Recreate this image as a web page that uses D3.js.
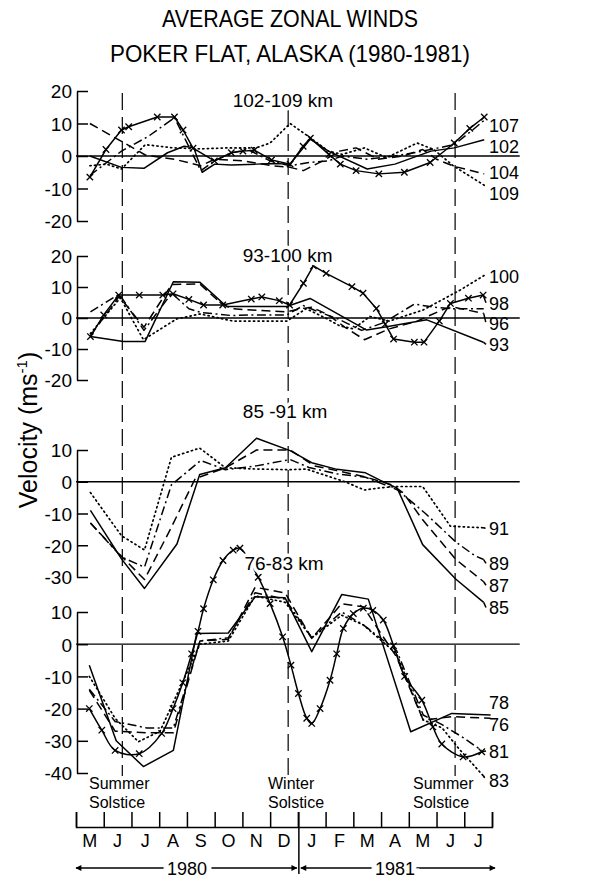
<!DOCTYPE html>
<html><head><meta charset="utf-8">
<script src="https://cdn.jsdelivr.net/npm/d3@7"></script>
<style>
body{margin:0;background:#fff}
svg{display:block;font-family:"Liberation Sans",Arial,sans-serif}
</style></head><body>
<svg id="c" width="610" height="878"></svg>
<script>
// ---------- DATA (t = months since 1 May 1980, value in m/s) ----------
const months = ["M","J","J","A","S","O","N","D","J","F","M","A","M","J","J"];
const years = ["1980","1981"];
const solstices = [1.67, 7.65, 13.67];
const solsticeNames = [["Summer","Solstice"],["Winter","Solstice"],["Summer","Solstice"]];

// 102-109 km
const s107 = [[0.5,-6.5],[1.08,2],[1.64,8],[1.9,9],[2.93,12],[3.55,12],[3.86,8],[4.22,2.4],[4.99,-1.5],[5.6,1],[6.02,1.5],[6.43,1.8],[7.05,-1.2],[7.72,-2.5],[8.19,3],[8.45,5.5],[9.12,0.5],[9.53,-2.5],[10.1,-4.5],[10.92,-5.5],[11.84,-5],[12.77,-2],[13.64,4],[14.2,8.5],[14.72,12]];
const s102 = [[0.5,0],[1.64,-3.5],[2.45,-3.8],[3.3,1],[3.9,3],[4.25,2.5],[4.55,-5],[5.0,-2.5],[5.6,-2.8],[6.5,-2.5],[7.1,-2.3],[7.72,-2.5],[8.45,5.2],[9.1,1.5],[10.5,-4],[11.5,-2.5],[12.8,1.5],[13.64,2.5],[14.72,5]];
const s104 = [[0.5,10],[1.64,4.5],[2.5,0.3],[3.55,-1],[4.5,-3],[5.0,-1],[6.0,-1.5],[7.1,-3],[7.72,-3.5],[8.2,-4.5],[8.9,-1.5],[9.5,1.5],[10.1,2.5],[10.9,-1],[11.8,0],[12.5,2],[13.0,-1],[13.64,-3.2],[14.72,-5.5]];
const s109 = [[0.5,-3],[1.1,-2.5],[1.64,-4],[2.5,3.5],[3.5,2.5],[4.5,2.2],[5.5,2.5],[6.5,2.5],[7.0,4],[7.72,10],[8.3,6.5],[9.1,1.5],[9.6,0.5],[10.4,2.5],[11.2,-0.5],[12.3,4],[12.9,2],[13.6,-3],[14.72,-9]];
const sDash1 = [[0.5,-6],[1.64,1.5],[2.6,6],[3.55,11.8],[4.5,-4.5],[5.0,-1.5],[5.6,1],[6.2,2],[7.0,-1.5],[7.72,-3],[8.4,-2],[9.1,-1.5],[9.6,0],[10.5,-1],[11.5,0],[12.5,1.5],[13.64,3.5],[14.3,8],[14.72,11]];

// 93-100 km
const s98 = [[0.52,-6],[1.0,1],[1.54,7.4],[2.28,7.4],[3.13,7.4],[3.5,7.8],[4.07,6],[4.6,4.2],[5.29,4.2],[6.32,6.1],[6.7,6.8],[7.33,5.6],[7.7,4.2],[8.2,11.2],[8.56,16.8],[9.02,14.4],[9.95,10.1],[10.35,8],[10.83,3.1],[11.15,-2],[11.45,-6.8],[12.2,-7.8],[12.55,-7.8],[13.1,-1],[13.5,4.7],[14.15,6.4],[14.68,7.4]];
const s93 = [[0.52,-6],[1.71,-7.6],[2.49,-7.6],[3.51,11.7],[4.47,11.5],[5.43,3.7],[7.6,3.7],[8.44,6.3],[9.82,-0.6],[10.48,-3.9],[11.2,-2.8],[12.65,-0.6],[14.69,-7.8]];
const s100 = [[0.52,-5],[1.6,6.5],[2.43,-7],[3.63,-0.3],[4.47,1.3],[5.67,-1],[7.6,-1],[8.3,3],[9.0,0],[9.5,-2.5],[10.0,-3.5],[10.6,0.5],[11.3,-1],[12.52,2.6],[13.85,9],[14.75,13.9]];
const s96 = [[0.52,-5.7],[1.56,7],[2.45,-3],[3.45,10.8],[4.46,11],[5.2,5],[5.6,3],[6.5,2.5],[7.6,2],[8.1,3],[8.5,3.5],[9.1,1],[9.7,-3],[10.4,-7],[11.3,-3.5],[12.3,-1],[13.3,3],[13.6,3.5],[14.7,1.5]];
const sDash2 = [[0.52,2],[1.56,7.7],[2.45,-4],[3.45,8],[4.07,3],[4.5,1.8],[5.6,0.8],[6.5,1],[7.6,1],[8.2,4],[8.6,2.5],[9.5,-0.5],[10.3,-4],[11.1,-1.5],[12.2,4.5],[12.9,3.5],[13.6,3],[14.7,3]];

// 85-91 km
const s85 = [[0.52,-9],[1.64,-24.3],[2.47,-33.6],[3.64,-19.6],[4.46,2.3],[5.39,4.4],[6.51,13.7],[7.72,9.8],[8.5,6],[9.41,3.9],[10.44,2.8],[10.96,0.5],[11.58,-2],[12.5,-19.8],[13.7,-30.7],[14.7,-38]];
const s87 = [[0.52,-13],[1.64,-23.5],[2.47,-30.8],[3.4,-15],[4.3,1],[5.39,4.4],[6.51,10],[7.72,10],[8.6,5],[9.4,3.5],[10.44,1.5],[11.4,-1],[11.8,-3.5],[12.5,-12],[13.7,-24.5],[14.7,-31.5]];
const s89 = [[0.52,-13],[1.64,-23.7],[2.47,-26.9],[3.44,-1],[4.5,6.7],[5.39,3.8],[6.5,5],[7.72,7],[8.4,4.5],[9.4,2.5],[10.44,1.4],[11.0,-0.5],[11.6,-2.6],[12.6,-10],[13.7,-19],[14.4,-23.4],[14.7,-24.5]];
const s91 = [[0.52,-3.4],[1.64,-17],[2.47,-21.5],[3.44,7.7],[4.46,10.6],[5.39,4.4],[6.5,4],[7.72,3.8],[8.3,4],[9.0,2],[9.7,0],[10.4,-2.6],[10.9,-2],[11.5,-1.5],[12.5,-1.5],[13.5,-14],[14.7,-14.5]];

// 76-83 km
const s78 = [[0.48,-6.5],[1.45,-30],[2.43,-38],[3.51,-33],[4.35,3.3],[5.49,3.5],[6.46,14.7],[7.54,14.4],[8.5,-2.3],[9.58,15.4],[10.54,14],[12.07,-27.2],[13.55,-21.5],[14.95,-22]];
const s76 = [[0.48,-14.3],[1.41,-27],[2.55,-27.5],[3.51,-27.5],[4.47,1],[5.49,1.5],[6.46,17.7],[7.54,15.9],[8.5,1.8],[9.58,12.6],[10.36,11.6],[11.56,-4],[12.52,-23.6],[13.55,-22.5],[14.95,-23]];
const s81 = [[0.48,-20],[0.93,-26.7],[1.41,-33],[2.28,-34],[3.09,-27.7],[3.5,-20],[3.85,-12],[4.17,-3],[4.4,4],[4.6,11],[4.95,20],[5.3,26],[5.67,29.2],[5.91,29.8],[6.57,20.8],[7.0,12.6],[7.45,2.3],[7.75,-6.5],[8.02,-15.3],[8.32,-23],[8.5,-24.6],[8.8,-20],[9.16,-11.2],[9.4,-3],[9.64,4.9],[10.0,9.5],[10.36,11.2],[10.7,10.5],[11.08,7.5],[11.45,-0.5],[11.85,-10],[12.47,-17.4],[12.87,-25.7],[13.19,-31],[13.96,-35],[14.63,-33.4]];
const s83 = [[0.48,-10],[1.41,-23],[2.25,-30.3],[3.03,-27],[4.47,0],[5.49,1],[6.46,15],[7.54,13],[8.5,2],[9.58,9],[10.36,6],[11.56,-3],[12.52,-23.5],[13.2,-26],[13.8,-32.4],[14.7,-41]];
const sDash4 = [[0.48,-14],[1.41,-24],[2.55,-26],[3.51,-26],[4.47,1],[5.49,2],[6.46,16],[7.54,14],[8.5,2],[9.58,10],[10.36,6],[11.56,-2],[12.52,-22],[13.2,-25],[13.96,-29],[14.63,-33]];

// ---------- LAYOUT / STYLE CONFIG ----------
const STYLES = {
  solid:{dash:null}, dashed:{dash:"9,5"}, dashdot:{dash:"9,3.5,2,3.5"},
  dotted:{dash:"1.2,3.4",cap:"round"}, cross:{dash:null,marker:true}
};
const panels = [
  {title:"102-109 km", tpos:[7.46,15], domain:[-20,20], range:[221,91], ticks:[20,10,0,-10,-20], series:[
    {data:sDash1, st:"dashdot"},
    {data:s109, st:"dotted", label:"109", lv:-11.5},
    {data:s104, st:"dashed", label:"104", lv:-5.0},
    {data:s102, st:"solid", label:"102", lv:3.1},
    {data:s107, st:"cross", label:"107", lv:9.5}]},
  {title:"93-100 km", tpos:[7.63,18], domain:[-20,20], range:[380,256], ticks:[20,10,0,-10,-20], series:[
    {data:sDash2, st:"dashdot"},
    {data:s100, st:"dotted", label:"100", lv:13.5},
    {data:s96, st:"dashed", label:"96", lv:-1.7},
    {data:s93, st:"solid", label:"93", lv:-8.5},
    {data:s98, st:"cross", label:"98", lv:4.9}]},
  {title:"85 -91 km", tpos:[7.54,20.2], domain:[-30,10], range:[577,450], ticks:[10,0,-10,-20,-30], series:[
    {data:s91, st:"dotted", label:"91", lv:-14.7},
    {data:s89, st:"dashdot", label:"89", lv:-25.7},
    {data:s87, st:"dashed", label:"87", lv:-32.6},
    {data:s85, st:"solid", label:"85", lv:-39.6}]},
  {title:"76-83 km", tpos:[7.5,23], domain:[-40,10], range:[773,612], ticks:[10,0,-10,-20,-30,-40], series:[
    {data:sDash4, st:"dashdot"},
    {data:s83, st:"dotted", label:"83", lv:-42.2},
    {data:s76, st:"dashed", label:"76", lv:-24.7},
    {data:s78, st:"solid", label:"78", lv:-18.1},
    {data:s81, st:"cross", label:"81", lv:-33.2, smooth:true}]}
];

// ---------- DRAW ----------
const svg = d3.select("#c");
const x = d3.scaleLinear().domain([0,15]).range([76,492]);
const LABEL_X = 489;

function styleLine(sel, st){
  const s = STYLES[st];
  sel.attr("fill","none").attr("stroke","#000").attr("stroke-width", st==="dotted"?1.7:1.5)
     .attr("stroke-linejoin","round");
  if (s.dash) sel.attr("stroke-dasharray", s.dash);
  if (s.cap) sel.attr("stroke-linecap", s.cap);
  return sel;
}

// solstice dashed lines
svg.append("g").selectAll("line").data(solstices).join("line")
  .attr("x1", d=>x(d)).attr("x2", d=>x(d))
  .attr("y1", (d,i)=> i===1 ? 110 : 93).attr("y2", 776)
  .attr("stroke","#000").attr("stroke-width",1.2).attr("stroke-dasharray","17,7");

panels.forEach(p=>{
  const y = d3.scaleLinear().domain(p.domain).range(p.range);
  const g = svg.append("g");
  // zero line
  g.append("line").attr("x1", x(0)).attr("x2", x(16)).attr("y1", y(0)).attr("y2", y(0))
    .attr("stroke","#000").attr("stroke-width",1.3);
  // series
  p.series.forEach(s=>{
    const line = d3.line().x(d=>x(d[0])).y(d=>y(d[1]))
      .curve(s.smooth ? d3.curveCatmullRom.alpha(0.5) : d3.curveLinear);
    styleLine(g.append("path").attr("d", line(s.data)), s.st);
    const last = s.data[s.data.length-1];
    if (s.label) {
      if (x(last[0]) < LABEL_X - 5) {
        styleLine(g.append("path").attr("d", d3.line()([[x(last[0]), y(last[1])],[LABEL_X-3, y(s.lv)]])), s.st);
      }
      g.append("text").attr("x", LABEL_X).attr("y", y(s.lv)+7).attr("font-size",18).text(s.label);
    }
    if (STYLES[s.st].marker) {
      g.append("g").selectAll("path").data(s.data).join("path")
        .attr("transform", d=>`translate(${x(d[0])},${y(d[1])})`)
        .attr("d","M-3.2,-3.2L3.2,3.2M-3.2,3.2L3.2,-3.2")
        .attr("stroke","#000").attr("stroke-width",1.3);
    }
  });
  // y axis
  const ax = d3.axisLeft(y).tickValues(p.ticks).tickSizeInner(-11).tickSizeOuter(0).tickPadding(5)
    .tickFormat(d=>String(d));
  const ag = g.append("g").attr("transform",`translate(${x(0)+1},0)`).call(ax);
  ag.select(".domain").attr("stroke","#000").attr("stroke-width",1.5);
  ag.selectAll(".tick line").attr("stroke","#000").attr("stroke-width",1.5);
  ag.selectAll(".tick text").attr("font-size",19).attr("font-family","Liberation Sans, Arial, sans-serif")
    .attr("fill","#000").attr("dy","0.36em");
  // panel title with white halo
  g.append("text").attr("x", x(p.tpos[0])).attr("y", y(p.tpos[1])).attr("text-anchor","middle")
    .attr("font-size",19).attr("stroke","#fff").attr("stroke-width",7).attr("paint-order","stroke")
    .attr("stroke-linejoin","round").attr("fill","#000").text(p.title);
});

// solstice labels (two lines in one text element)
solstices.forEach((s,i)=>{
  const tx = [89,268,413][i];
  const t = svg.append("text").attr("x",tx).attr("y",789).attr("font-size",16);
  t.append("tspan").attr("x",tx).text(solsticeNames[i][0]);
  t.append("tspan").attr("x",tx).attr("dy",18.5).text(solsticeNames[i][1]);
});

// month axis
const mAxis = d3.axisTop(x).tickValues(d3.range(0,16)).tickSizeInner(15).tickSizeOuter(15).tickFormat("");
const mg = svg.append("g").attr("transform","translate(0,827)").call(mAxis);
mg.select(".domain").attr("stroke","#000").attr("stroke-width",1.5);
mg.selectAll(".tick line").attr("stroke","#000").attr("stroke-width",1.5);
svg.append("g").selectAll("text").data(months).join("text")
  .attr("x",(d,i)=>x(i+0.5)).attr("y",847).attr("text-anchor","middle").attr("font-size",18).text(d=>d);
svg.append("line").attr("x1",x(8)+1).attr("x2",x(8)+1).attr("y1",812).attr("y2",874)
  .attr("stroke","#000").attr("stroke-width",1.5);

// year arrows
const defs = svg.append("defs");
defs.append("marker").attr("id","ah").attr("viewBox","0 0 10 10").attr("refX",9).attr("refY",5)
  .attr("markerWidth",9).attr("markerHeight",6).attr("markerUnits","userSpaceOnUse")
  .attr("orient","auto-start-reverse")
  .append("path").attr("d","M0,0L10,5L0,10Z").attr("fill","#000");
const spans = [[0,8],[8,15]];
spans.forEach((sp,i)=>{
  const x1 = x(sp[0]) + (i===1?3:0), x2 = x(sp[1]) + (i===0?-1:3);
  svg.append("line").attr("x1",x1).attr("x2",x2).attr("y1",868).attr("y2",868)
    .attr("stroke","#000").attr("stroke-width",1.4)
    .attr("marker-start","url(#ah)").attr("marker-end","url(#ah)");
  const cx = i===0 ? 187 : 395;
  svg.append("text").attr("x",cx).attr("y",875).attr("text-anchor","middle").attr("font-size",18)
    .attr("stroke","#fff").attr("stroke-width",10).attr("paint-order","stroke").attr("fill","#000")
    .text(years[i]);
});

// titles
svg.append("text").attr("x",290).attr("y",27).attr("text-anchor","middle").attr("font-size",24)
  .attr("textLength",256).attr("lengthAdjust","spacingAndGlyphs").text("AVERAGE ZONAL WINDS");
svg.append("text").attr("x",290).attr("y",62).attr("text-anchor","middle").attr("font-size",24)
  .attr("textLength",360).attr("lengthAdjust","spacingAndGlyphs").text("POKER FLAT, ALASKA (1980-1981)");

// y axis title
const yt = svg.append("text").attr("transform","translate(37,430) rotate(-90)")
  .attr("text-anchor","middle").attr("font-size",25);
yt.append("tspan").text("Velocity (ms");
yt.append("tspan").attr("font-size",15).attr("dy",-10).text("-1");
yt.append("tspan").attr("dy",10).text(")");
</script>
</body></html>
